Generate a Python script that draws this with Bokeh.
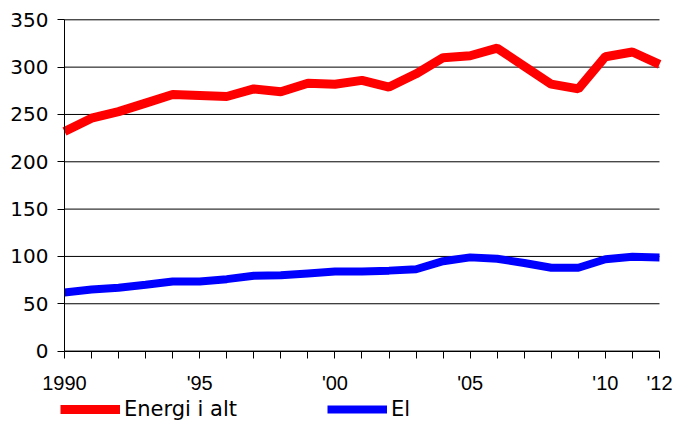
from bokeh.plotting import figure
from bokeh.models import FixedTicker, Legend, LegendItem, Range1d
from bokeh.embed import file_html
from bokeh.resources import INLINE

years = list(range(1990, 2013))
energi_i_alt = [232, 246, 253, 262, 271, 270, 269, 277, 274, 283, 282, 286, 279,
                293, 310, 312, 320, 301, 282, 277, 311, 316, 303]
el = [62, 65, 67, 70, 73.5, 73.5, 76, 79.5, 80, 82, 84, 84, 85,
      86.5, 95, 99, 97.5, 93, 88, 88, 97, 99.6, 99]
x_tick_labels = {1990: "1990", 1995: "'95", 2000: "'00", 2005: "'05", 2010: "'10", 2012: "'12"}
y_ticks = [0, 50, 100, 150, 200, 250, 300, 350]

p = figure(width=674, height=421, output_backend="svg", toolbar_location=None,
           x_range=Range1d(1987.634, 2012.555), y_range=Range1d(-74.4, 370.4),
           min_border_left=0, min_border_right=0, min_border_top=0, min_border_bottom=0)
p.outline_line_color = None
p.background_fill_color = "white"

# horizontal gridlines spanning the data years
p.segment(x0=years[0], x1=years[-1], y0=y_ticks, y1=y_ticks,
          line_color="#000000", line_width=1)

r1 = p.line(years, energi_i_alt, line_color="#FF0000", line_width=9)
r2 = p.line(years, el, line_color="#0000FF", line_width=8)

p.xgrid.visible = False
p.ygrid.visible = False

p.yaxis.fixed_location = years[0]
p.yaxis.ticker = FixedTicker(ticks=y_ticks)
p.yaxis.bounds = (y_ticks[0], y_ticks[-1])
p.yaxis.major_tick_out = 7
p.yaxis.major_tick_in = 0
p.yaxis.minor_tick_line_color = None
p.yaxis.axis_line_color = "#000000"
p.yaxis.major_tick_line_color = "#000000"
p.yaxis.major_label_text_font = "DejaVu Sans"
p.yaxis.major_label_text_font_size = "20px"
p.yaxis.major_label_text_color = "#000000"
p.yaxis.major_label_standoff = 9

p.xaxis.fixed_location = y_ticks[0]
p.xaxis.ticker = FixedTicker(ticks=years)
p.xaxis.bounds = (years[0], years[-1])
p.xaxis.major_label_overrides = {y: x_tick_labels.get(y, "") for y in years}
p.xaxis.major_tick_out = 7
p.xaxis.major_tick_in = 0
p.xaxis.minor_tick_line_color = None
p.xaxis.axis_line_color = "#000000"
p.xaxis.major_tick_line_color = "#000000"
p.xaxis.major_label_text_font = "Liberation Sans"
p.xaxis.major_label_text_font_size = "20px"
p.xaxis.major_label_text_color = "#000000"
p.xaxis.major_label_standoff = 14

legend = Legend(items=[LegendItem(label="Energi i alt", renderers=[r1]),
                       LegendItem(label="El", renderers=[r2])],
                orientation="horizontal", location=(60, 0),
                padding=0, margin=0, spacing=90,
                glyph_width=60, glyph_height=20, label_standoff=4,
                label_text_font="DejaVu Sans", label_text_font_size="21px",
                label_text_color="#000000",
                border_line_alpha=0, background_fill_alpha=0)
p.add_layout(legend, "center")

open("out.html", "w").write(file_html(p, INLINE))
